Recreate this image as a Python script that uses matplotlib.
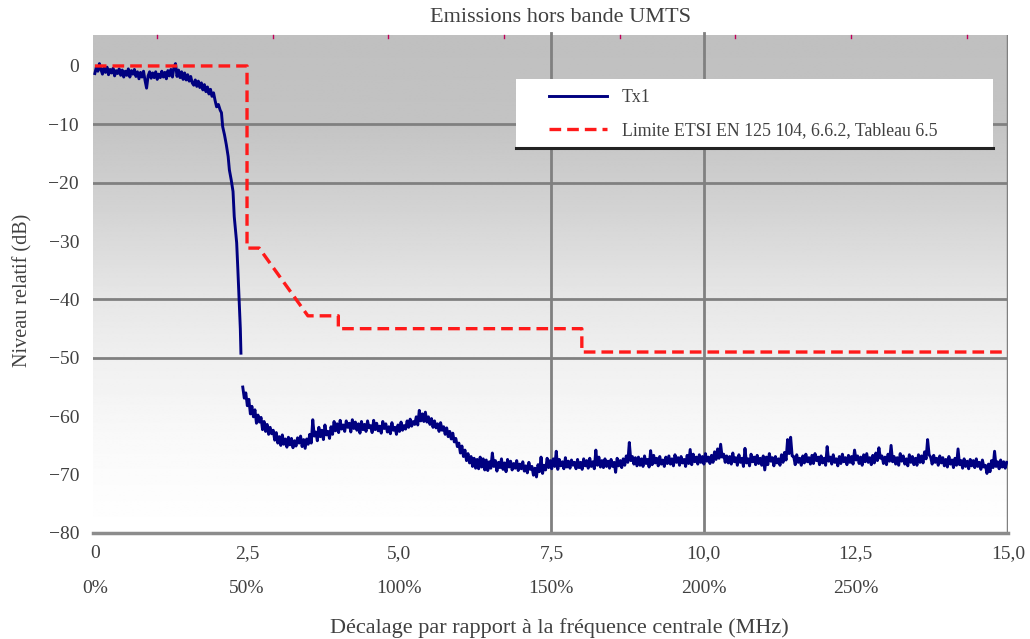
import numpy as np
import matplotlib
matplotlib.use("Agg")
import matplotlib.pyplot as plt
from matplotlib.patches import Rectangle

# ---------------- data ----------------
# Tx1, in-band part, sampled every 0.025 MHz from 0 MHz
tx1_in_start = 0.0
tx1_in_step = 0.025
tx1_in_y = [
    -1.3, -0.2, -0.9, 0.4, -0.6, -1.4, -0.3, -1.1, -0.2, -1.5, -0.6, -1.2, -0.4, -1.7, -0.8, -1.3, -0.5, -1.6, -0.7, -1.9,
    -0.9, -1.6, -0.5, -1.9, -0.8, -1.4, -0.6, -1.8, -1.0, -2.2, -1.1, -1.9, -0.9, -2.5, -3.8, -1.7, -1.0, -2.1, -1.2, -2.0,
    -1.0, -2.3, -1.4, -2.0, -0.9, -1.9, -1.1, -2.2, -0.8, -1.7, -0.6, -1.9, -0.2, 0.4, -1.8, -0.7, -2.0, -1.0, -2.3, -1.2,
    -2.4, -1.5, -2.6, -1.8, -2.9, -3.3, -2.4, -3.5, -2.6, -3.7, -2.9, -4.1, -3.2, -4.4, -3.6, -4.8, -4.0, -5.2, -4.6, -5.9]

# Tx1, roll-off (MHz, dB)
tx1_roll_x = [2.00, 2.03, 2.06, 2.08, 2.10, 2.13, 2.16, 2.19, 2.21, 2.24,
              2.27, 2.29, 2.33, 2.35, 2.37, 2.39, 2.40]
tx1_roll_y = [-7.0, -6.6, -7.6, -8.0, -10.4, -11.8, -13.5, -15.5, -17.8, -19.5,
              -21.5, -25.8, -30.3, -35.0, -40.0, -45.0, -49.2]

# Tx1, out-of-band part, sampled every 0.025 MHz from 2.43 MHz
tx1_out_start = 2.43
tx1_out_step = 0.025
tx1_out_y = [
    -55.0, -56.9, -56.0, -58.2, -57.1, -59.6, -58.3, -60.1, -58.9, -61.2, -59.8, -61.0, -60.2, -62.3, -60.9, -62.6, -61.4, -63.1, -61.9, -63.0,
    -62.4, -64.1, -62.8, -64.6, -63.5, -65.0, -63.2, -64.8, -63.9, -65.3, -63.6, -64.9, -63.8, -65.4, -64.2, -65.1, -63.7, -64.6, -63.4, -65.2,
    -64.0, -65.5, -63.9, -64.8, -63.1, -64.6, -60.6, -63.4, -62.7, -64.2, -61.9, -63.5, -62.4, -64.0, -61.5, -63.2, -62.6, -63.8, -61.8, -63.1,
    -60.9, -62.5, -61.3, -62.8, -60.7, -62.2, -61.5, -62.6, -60.8, -61.9, -61.2, -62.7, -60.6, -62.1, -61.0, -62.4, -61.3, -62.9, -60.9, -62.3,
    -61.4, -62.6, -60.8, -62.0, -61.6, -62.8, -60.7, -62.3, -61.2, -62.5, -61.7, -62.9, -60.9, -62.1, -61.3, -62.7, -61.8, -63.0, -61.1, -62.4,
    -61.9, -63.1, -61.5, -62.6, -61.0, -62.4, -61.6, -62.2, -60.8, -61.9, -60.5, -61.7, -60.9, -61.4, -60.1, -61.5, -59.0, -60.8, -59.6, -60.9,
    -59.3, -61.0, -60.1, -61.4, -60.4, -61.9, -60.8, -62.0, -61.3, -62.6, -61.1, -62.4, -61.8, -63.1, -62.0, -63.5, -62.6, -63.9, -62.9, -64.4,
    -63.8, -65.2, -64.6, -66.3, -65.1, -66.9, -65.8, -67.6, -66.4, -68.0, -66.9, -68.6, -67.2, -68.9, -67.4, -69.0, -67.0, -68.7, -67.3, -69.2,
    -67.5, -69.3, -67.8, -68.9, -66.3, -68.6, -67.6, -69.4, -67.9, -68.8, -67.3, -69.1, -68.0, -69.5, -67.4, -68.7, -67.7, -69.2, -68.1, -68.9,
    -67.6, -69.3, -68.2, -69.0, -67.8, -69.4, -68.5, -69.7, -67.9, -69.1, -68.6, -70.1, -68.9, -70.4, -68.3, -69.5, -67.0, -69.8, -68.4, -69.2,
    -67.2, -68.8, -67.6, -69.0, -67.3, -68.6, -66.0, -69.1, -67.4, -68.5, -67.8, -69.0, -67.1, -68.7, -67.7, -68.9, -67.5, -68.4, -67.9, -69.0,
    -67.4, -68.8, -67.9, -69.1, -67.3, -68.5, -67.6, -68.9, -67.2, -68.6, -67.8, -69.0, -65.8, -68.4, -67.0, -68.7, -67.6, -68.8, -67.3, -68.6,
    -67.7, -68.9, -67.4, -68.6, -67.9, -69.6, -67.2, -68.5, -67.6, -68.8, -67.3, -68.4, -66.8, -67.9, -64.5, -67.6, -66.9, -68.2, -67.1, -68.5,
    -67.0, -68.4, -67.3, -68.6, -66.8, -68.1, -67.4, -68.7, -65.9, -68.3, -66.7, -68.0, -67.2, -68.5, -66.9, -68.2, -67.5, -68.6, -67.0, -68.1,
    -66.8, -68.2, -67.3, -68.5, -66.6, -67.9, -67.1, -68.4, -66.9, -68.0, -67.4, -68.6, -66.7, -68.1, -65.7, -68.3, -66.5, -67.8, -67.0, -68.2,
    -66.6, -67.9, -66.9, -68.2, -66.4, -67.7, -67.0, -68.1, -66.7, -67.9, -66.1, -67.4, -65.6, -67.2, -64.8, -67.0, -66.5, -67.9, -66.8, -68.0,
    -66.9, -68.2, -66.3, -67.8, -67.1, -68.4, -66.6, -67.9, -67.2, -68.6, -65.5, -68.0, -67.3, -68.5, -66.5, -67.8, -67.0, -68.3, -66.7, -68.1,
    -67.2, -68.4, -66.8, -69.2, -67.0, -68.3, -66.4, -67.7, -67.1, -68.5, -66.9, -68.0, -67.3, -68.4, -66.6, -67.9, -66.2, -67.5, -64.0, -66.4,
    -63.6, -66.8, -66.9, -68.3, -66.6, -67.9, -67.2, -68.4, -66.8, -68.0, -66.5, -67.8, -67.1, -68.2, -66.7, -68.1, -66.4, -67.6, -67.0, -68.3,
    -66.8, -68.0, -67.2, -68.4, -65.2, -67.7, -67.0, -68.2, -66.6, -67.9, -67.3, -68.5, -66.9, -68.1, -66.5, -67.8, -67.1, -68.3, -66.7, -67.9,
    -66.9, -68.2, -65.8, -67.5, -66.8, -68.1, -67.0, -68.4, -66.6, -67.8, -66.4, -67.9, -67.1, -68.3, -66.7, -68.0, -66.3, -67.6, -65.4, -67.2,
    -66.8, -68.1, -67.0, -68.3, -66.5, -67.7, -65.0, -67.8, -66.9, -68.2, -67.1, -68.4, -66.4, -67.7, -66.8, -68.2, -67.3, -68.5, -66.6, -67.9,
    -66.9, -68.3, -67.2, -68.4, -66.6, -67.9, -66.8, -68.0, -66.1, -67.3, -64.0, -66.6, -67.0, -68.2, -66.7, -67.9, -67.2, -68.4, -66.8, -68.0,
    -67.1, -68.5, -67.4, -68.7, -66.9, -68.2, -67.5, -68.8, -67.2, -68.4, -65.6, -68.3, -67.6, -68.9, -67.3, -68.6, -67.7, -69.0, -67.4, -68.5,
    -67.6, -68.8, -67.3, -68.6, -67.9, -69.1, -67.5, -68.7, -68.4, -69.8, -68.2, -69.5, -67.6, -68.8, -66.0, -68.6, -67.8, -69.0, -67.5, -68.7,
    -67.8, -68.9, -67.9]

# ETSI limit mask
limit_x = [0.0, 2.5, 2.5, 2.7, 3.5, 4.0, 4.0, 8.0, 8.0, 15.0]
limit_y = [0.0, 0.0, -31.2, -31.2, -42.8, -42.8, -45.0, -45.0, -49.0, -49.0]

xticks = [0, 2.5, 5.0, 7.5, 10.0, 12.5, 15.0]
xtick_labels = ["0", "2,5", "5,0", "7,5", "10,0", "12,5", "15,0"]
pct_pos = [0, 2.5, 5.0, 7.5, 10.0, 12.5]
pct_labels = ["0%", "50%", "100%", "150%", "200%", "250%"]
yticks = [0, -10, -20, -30, -40, -50, -60, -70, -80]

title = "Emissions hors bande UMTS"
xlabel = "Décalage par rapport à la fréquence centrale (MHz)"
ylabel = "Niveau relatif (dB)"
series_names = ["Tx1", "Limite ETSI EN 125 104, 6.6.2, Tableau 6.5"]

# ---------------- plot ----------------
plt.rcParams['font.family'] = ['Liberation Serif', 'DejaVu Serif']
TXT = '#404040'

fig = plt.figure(figsize=(10.30, 6.39), dpi=100)
ax = fig.add_axes([0.0903, 0.1659, 0.8883, 0.7793])
X0, X1, Y0, Y1 = -0.03, 15.0, -80, 5.3
ax.set_xlim(X0, X1)
ax.set_ylim(Y0, Y1)

# gradient background
fr = np.linspace(0, 1, 400)
ctrl_f = [0.0, 0.17, 0.33, 0.53, 0.65, 0.82, 1.0]
ctrl_g = [0.75, 0.765, 0.82, 0.905, 0.94, 0.978, 1.0]
g = np.interp(fr, ctrl_f, ctrl_g)
img = np.repeat(g[:, None], 2, axis=1)
ax.imshow(img, cmap='gray', vmin=0, vmax=1, aspect='auto',
          extent=[X0, X1, Y0, Y1], origin='upper', zorder=0, interpolation='bilinear')

for s in ['left', 'top', 'right']:
    ax.spines[s].set_visible(False)
ax.spines['bottom'].set_color('#8c8c8c')
ax.spines['bottom'].set_linewidth(2.5)

GRID = '#808080'
for yv in [-10, -20, -40, -50]:
    ax.axhline(yv, color=GRID, lw=2, zorder=1)
for xv in [7.5, 10.0]:
    ax.axvline(xv, color=GRID, lw=2, zorder=1, ymax=1.004, clip_on=False)
ax.axvline(15.0, color=GRID, lw=2.5, zorder=1)

tx1_in_x = tx1_in_start + tx1_in_step * np.arange(len(tx1_in_y))
tx1_a_x = list(tx1_in_x) + tx1_roll_x
tx1_a_y = tx1_in_y + tx1_roll_y
tx1_out_x = tx1_out_start + tx1_out_step * np.arange(len(tx1_out_y))

NAVY = '#000080'
ax.plot(tx1_a_x, tx1_a_y, color=NAVY, lw=2.1, zorder=3, label=series_names[0])
ax.plot(tx1_out_x, tx1_out_y, color=NAVY, lw=2.1, zorder=3)
ax.plot(limit_x, limit_y, color='#ff1a1a', lw=2.4, ls=(0, (3.5, 1.8)), zorder=4,
        label=series_names[1])

ax.set_xticks(xticks)
ax.set_xticklabels(xtick_labels)
ax.set_yticks(yticks)
ax.set_yticklabels([str(v).replace('-', '\u2212') for v in yticks])
ax.tick_params(axis='both', length=0, labelsize=14, colors=TXT)
ax.tick_params(axis='x', pad=9)
ax.tick_params(axis='y', pad=10)

# small magenta marks on top edge
top_marks = [1.02 + 1.9 * k for k in range(8)]
for tm in top_marks:
    ax.plot([tm, tm], [Y1, Y1 - 0.5], color='#c0005a', lw=1, zorder=5, clip_on=False)

for p, lab in zip(pct_pos, pct_labels):
    ax.text(p, -0.111, lab, transform=ax.get_xaxis_transform(), ha='center', va='center',
            fontsize=14, color=TXT)

fig.text(0.5437, 0.972, title, ha='center', va='center', fontsize=16, color=TXT)
fig.text(0.543, 0.002, xlabel, ha='center', va='bottom', fontsize=16, color=TXT)
fig.text(0.022, 0.546, ylabel, ha='center', va='center', rotation=90, fontsize=14.5, color=TXT)

# legend box
lx0, lx1 = 0.462, 0.984
ly0, ly1 = 0.775, 0.912
ax.add_patch(Rectangle((lx0, ly0), lx1 - lx0, ly1 - ly0, transform=ax.transAxes,
                       facecolor='white', edgecolor='none', zorder=6))
ax.plot([lx0, lx1], [ly0 - 0.002, ly0 - 0.002], transform=ax.transAxes, color='#222222',
        lw=2.2, zorder=6)
leg = ax.legend(loc='upper left', bbox_to_anchor=(0.498, 0.891), frameon=False,
                fontsize=12.8, handlelength=3.3, handletextpad=0.8, labelspacing=0.9,
                borderaxespad=0, borderpad=0)
leg.set_zorder(7)
for t in leg.get_texts():
    t.set_color(TXT)

fig.savefig('out.png', dpi=100)
